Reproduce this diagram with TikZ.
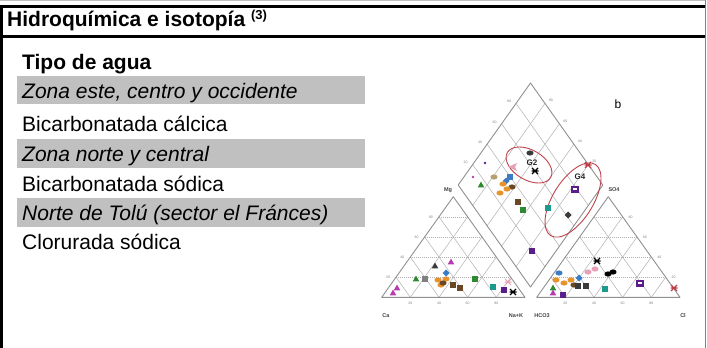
\documentclass[tikz,border=0pt]{standalone}
\usepackage{fontspec}
\setmainfont{Liberation Sans}
\usetikzlibrary{calc}
\definecolor{band}{HTML}{C0C0C0}
\definecolor{pgrid}{HTML}{B0B0B0}
\definecolor{pedge}{HTML}{909090}
\definecolor{mpurple}{HTML}{5A1E8C}
\definecolor{mgreen}{HTML}{2E8A2E}
\definecolor{mteal}{HTML}{1E9A8C}
\definecolor{morange}{HTML}{E8922C}
\definecolor{mblue}{HTML}{3C7CC4}
\definecolor{mbrown}{HTML}{6A4826}
\definecolor{mmag}{HTML}{B83AB0}
\definecolor{mpink}{HTML}{E8A0B4}
\definecolor{mred}{HTML}{C0404A}
\definecolor{mtan}{HTML}{B4A070}
\definecolor{mdark}{HTML}{3A3A3A}
\tikzset{
  txt/.style={font=\fontsize{21}{25}\selectfont, inner sep=0pt, anchor=base west},
  plab/.style={font=\fontsize{5.5}{6}\selectfont\bfseries, text=black!75, inner sep=0pt},
  tick/.style={font=\fontsize{3.5}{4}\selectfont, text=black!50, inner sep=0pt},
  gline/.style={draw=pgrid, line width=0.5pt},
  dline/.style={draw=pgrid, line width=0.5pt, dash pattern=on 1pt off 1pt},
  eline/.style={draw=pedge, line width=0.9pt, line join=round},
  sqm/.pic={\path[pic actions] (-3,-3) rectangle (3,3);},
  trim/.pic={\path[pic actions] (0,-3.4) -- (3.3,2.4) -- (-3.3,2.4) -- cycle;},
  dim/.pic={\path[pic actions] (0,-3.5) -- (3.5,0) -- (0,3.5) -- (-3.5,0) -- cycle;},
  blob/.pic={\path[pic actions] (0,0) ellipse [x radius=3.6, y radius=2.6];},
  dotm/.pic={\path[pic actions] (0,0) circle [radius=1.4];},
  osq/.pic={\path[pic actions] (-4,-3.5) rectangle (4,3.5); \fill[white] (-1.7,-1.4) rectangle (1.7,1.4);},
  xm/.pic={\path[pic actions] (-3,-3) -- (3,3) (-3,3) -- (3,-3) (-3.5,0) -- (3.5,0);},
}
\begin{document}
\begin{tikzpicture}[x=1pt,y=-1pt]
\useasboundingbox (0,0) rectangle (707,348);
% frame
\draw[gray!50, line width=0.8pt] (0,0.4) -- (705,0.4);
\fill[black] (0,5) rectangle (705,7.5);
\fill[black] (0,35) rectangle (705,38);
\fill[black] (0,5) rectangle (3,348);
\draw[gray, line width=1pt] (705.5,0) -- (705.5,348);
% bands
\fill[band] (17,76) rectangle (365,104);
\fill[band] (17,139) rectangle (365,168);
\fill[band] (17,198) rectangle (365,227);
% texts
\node[txt] (head) at (7,27) {\bfseries Hidroquímica e isotopía \raisebox{7pt}{\fontsize{13}{13}\selectfont (3)}};
\node[txt] (tipo) at (22,69) {\bfseries Tipo de agua};
\node[txt] (z1) at (22,98) {\itshape Zona este, centro y occidente};
\node[txt] (t1) at (22,131) {Bicarbonatada cálcica};
\node[txt] (z2) at (22,161) {\itshape Zona norte y central};
\node[txt] (t2) at (22,191) {Bicarbonatada sódica};
\node[txt] (z3) at (22,220) {\itshape Norte de Tolú (sector el Fránces)};
\node[txt] (t3) at (22,249) {Clorurada sódica};
% piper geometry
\coordinate (A) at (381.7,297.3);
\coordinate (B) at (525,297.3);
\coordinate (C) at (453.3,196.7);
\coordinate (D) at (536.7,297.3);
\coordinate (E) at (680,297.3);
\coordinate (F) at (608.3,196.7);
\coordinate (P) at (530.5,287);
\coordinate (Q) at (458.2,185);
\coordinate (R) at (602.8,185);
\coordinate (T) at (530.5,83);
\foreach \t [evaluate=\t as \u using 1-\t] in {0.2,0.4,0.6,0.8}{
  \path[dline] ($(A)!\t!(C)$) -- ($(B)!\t!(C)$);
  \path[gline] ($(A)!\t!(B)$) -- ($(B)!\u!(C)$);
  \path[gline] ($(A)!\t!(B)$) -- ($(A)!\t!(C)$);
  \path[dline] ($(D)!\t!(F)$) -- ($(E)!\t!(F)$);
  \path[gline] ($(D)!\t!(E)$) -- ($(E)!\u!(F)$);
  \path[gline] ($(D)!\t!(E)$) -- ($(D)!\t!(F)$);
  \path[gline] ($(P)!\t!(R)$) -- ($(Q)!\t!(T)$);
  \path[gline] ($(P)!\t!(Q)$) -- ($(R)!\t!(T)$);
}
\path[eline] (A) -- (B) -- (C) -- cycle;
\path[eline] (D) -- (E) -- (F) -- cycle;
\path[eline] (P) -- (R) -- (T) -- (Q) -- cycle;
% tick labels
\foreach \t/\v in {0.2/20,0.4/40,0.6/60,0.8/80}{
  \node[tick] at ($(A)!\t!(C)+(-8,0)$) {\v};
  \node[tick] at ($(E)!\t!(F)+(8,0)$) {\v};
  \node[tick] at ($(A)!\t!(B)+(0,6)$) {\v};
  \node[tick] at ($(D)!\t!(E)+(0,6)$) {\v};
  \node[tick] at ($(Q)!\t!(T)+(-7,-2)$) {\v};
  \node[tick] at ($(R)!\t!(T)+(6,-3)$) {\v};
}
% axis labels
\node[plab] (lca) at (386,316) {Ca};
\node[plab] (lna) at (516,316) {Na+K};
\node[plab] (lhc) at (542,316) {HCO3};
\node[plab] (lcl) at (683,316) {Cl};
\node[plab] (lmg) at (448,190) {Mg};
\node[plab] (lso) at (614,190) {SO4};
\node[font=\fontsize{12}{12}\selectfont, inner sep=0pt] (lb) at (618,104) {b};
% group ellipses
\draw[mred, line width=0.9pt] (529,165) ellipse [x radius=25, y radius=15, rotate=-30];
\draw[mred, line width=0.9pt] (573,200) ellipse [x radius=42, y radius=20, rotate=58];
\node[font=\fontsize{8}{8}\selectfont\bfseries, text=black!85, inner sep=0pt] (g2) at (532,163) {G2};
\node[font=\fontsize{8}{8}\selectfont\bfseries, text=black!85, inner sep=0pt] (g4) at (580,177) {G4};
% diamond markers
\pic[fill=mdark] at (530,153) {blob};
\pic[draw=black, line width=1.2pt] at (535,171) {xm};
\fill[mpink] (508,167) -- (517,163) -- (515,167) -- (517,171) -- cycle;
\pic[fill=mpurple] at (485,163) {dotm};
\pic[fill=mmag] at (473,177) {dotm};
\pic[fill=mgreen] at (481,185) {trim};
\pic[fill=mtan] at (494,177) {blob};
\pic[fill=mblue] at (510,177) {sqm};
\pic[fill=mblue] at (506,181) {dim};
\pic[fill=morange] at (503,184) {blob};
\pic[fill=morange] at (500,193) {blob};
\pic[fill=mbrown] at (512,187) {blob};
\pic[fill=morange] at (507,189) {blob};
\pic[fill=mbrown] at (518,202) {sqm};
\pic[fill=mgreen] at (523,210) {sqm};
\pic[fill=mteal] at (548,208) {sqm};
\pic[fill=mpurple] at (575,189) {osq};
\pic[fill=mdark] at (568,215) {dim};
\pic[fill=mpurple] at (532,251) {sqm};
\pic[draw=mred, line width=1.2pt] at (588,165) {xm};
% left triangle markers
\pic[fill=mmag] at (393,293) {trim};
\pic[fill=mmag] at (397,288) {trim};
\pic[fill=mdark] at (435,266) {trim};
\pic[fill=mmag] at (451,262) {trim};
\pic[fill=mgreen] at (416,279) {trim};
\pic[fill=gray] at (425,279) {sqm};
\pic[fill=morange] at (438,280) {blob};
\pic[fill=morange] at (441,285) {blob};
\pic[fill=morange] at (446,279) {blob};
\pic[fill=mbrown] at (443,283) {blob};
\pic[fill=mblue] at (446,273) {dim};
\pic[fill=mbrown] at (453,285) {sqm};
\pic[fill=mbrown] at (460,288) {sqm};
\pic[fill=mgreen] at (475,279) {sqm};
\pic[fill=mteal] at (493,287) {sqm};
\pic[fill=mpurple] at (504,290) {sqm};
\pic[draw=mpink, line width=1pt] at (508,282) {xm};
\pic[draw=black, line width=1.2pt] at (513,292) {xm};
% right triangle markers
\pic[fill=mblue] at (559,273) {blob};
\pic[fill=morange] at (556,280) {blob};
\pic[fill=morange] at (564,283) {blob};
\pic[fill=morange] at (571,280) {blob};
\pic[fill=mbrown] at (574,285) {blob};
\pic[fill=mgreen] at (553,288) {trim};
\pic[fill=mmag] at (553,293) {trim};
\pic[fill=mpurple] at (563,295) {sqm};
\pic[fill=mdark] at (578,286) {sqm};
\pic[fill=mdark] at (586,286) {sqm};
\pic[fill=mblue] at (579,278) {dim};
\pic[fill=mpink] at (588,272) {blob};
\pic[fill=mpink] at (595,269) {blob};
\pic[draw=black, line width=1.2pt] at (597,261) {xm};
\pic[fill=black] at (608,274) {blob};
\pic[fill=black] at (613,272) {blob};
\pic[fill=mteal] at (605,289) {sqm};
\pic[fill=mpurple] at (640,283) {osq};
\pic[draw=mred, line width=1.2pt] at (674,288) {xm};
\end{tikzpicture}
\end{document}
